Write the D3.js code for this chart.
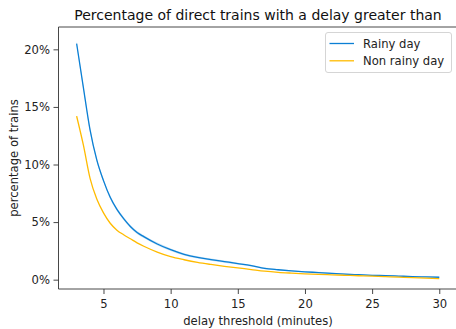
<!DOCTYPE html>
<html>
<head>
<meta charset="utf-8">
<script src="https://cdn.jsdelivr.net/npm/d3@7"></script>
<style>
  html, body { margin: 0; padding: 0; background: #fff; }
  svg { display: block; font-family: "DejaVu Sans", sans-serif; }
</style>
</head>
<body>
<svg id="chart" width="456" height="329"></svg>
<script>
// Delay thresholds in minutes
const thresholds = [3, 3.5, 4, 4.5, 5, 5.5, 6, 6.5, 7, 7.5, 8, 9, 10, 11, 12, 13, 14, 15,
  16, 17, 18, 19, 20, 21, 22, 23, 24, 25, 26, 27, 28, 29, 30];

// Share of trains (%) delayed by more than the threshold
const rainy = [20.5, 16.7, 13.0, 10.4, 8.6, 7.15, 6.1, 5.3, 4.62, 4.1, 3.74, 3.1, 2.6, 2.2,
  1.93, 1.74, 1.57, 1.40, 1.22, 0.98, 0.86, 0.76, 0.68, 0.62, 0.55, 0.48, 0.43, 0.38,
  0.35, 0.31, 0.27, 0.24, 0.21];
const nonRainy = [14.2, 11.7, 8.8, 7.0, 5.8, 4.9, 4.3, 3.9, 3.55, 3.2, 2.9, 2.4, 2.0, 1.73,
  1.50, 1.32, 1.16, 1.02, 0.88, 0.74, 0.64, 0.57, 0.51, 0.46, 0.42, 0.38, 0.34, 0.30,
  0.26, 0.22, 0.18, 0.13, 0.09];

// Half-width of the rainy-day confidence band (percentage points)
const rainyCI = [0.20, 0.18, 0.17, 0.16, 0.15, 0.15, 0.14, 0.14, 0.13, 0.13, 0.12, 0.12,
  0.11, 0.10, 0.10, 0.09, 0.09, 0.08, 0.08, 0.07, 0.07, 0.06, 0.06, 0.06, 0.05, 0.05,
  0.05, 0.05, 0.04, 0.04, 0.04, 0.04, 0.04];

const xTicks = [5, 10, 15, 20, 25, 30];
const yTicks = [0, 5, 10, 15, 20];
const seriesNames = ["Rainy day", "Non rainy day"];
const colors = ["#0b7fd4", "#ffbb00"];

const svg = d3.select("#chart");
const plot = { left: 58.5, right: 457.4, top: 27, bottom: 289 };
const labelSize = "11.6px";

const x = d3.scaleLinear().domain([1.65, 31.35]).range([plot.left, plot.right]);
const y = d3.scaleLinear().domain([-0.81, 21.94]).range([plot.bottom, plot.top]);

// Confidence band for rainy days
const band = d3.area()
  .x((d, i) => x(thresholds[i]))
  .y0((d, i) => y(rainy[i] - rainyCI[i]))
  .y1((d, i) => y(rainy[i] + rainyCI[i]))
  .curve(d3.curveMonotoneX);
svg.append("path")
  .attr("d", band(rainy))
  .attr("fill", colors[0])
  .attr("fill-opacity", 0.22);

const line = d3.line()
  .x((d, i) => x(thresholds[i]))
  .y(d => y(d))
  .curve(d3.curveMonotoneX);

[rainy, nonRainy].forEach((vals, k) => {
  svg.append("path")
    .attr("d", line(vals))
    .attr("fill", "none")
    .attr("stroke", colors[k])
    .attr("stroke-width", 1.3);
});

// Axes
const xAxis = d3.axisBottom(x).tickValues(xTicks).tickSize(5).tickPadding(5.5);
const yAxis = d3.axisLeft(y).tickValues(yTicks).tickSize(5).tickPadding(3.5)
  .tickFormat(d => d + "%");

const gx = svg.append("g").attr("transform", `translate(0,${plot.bottom})`).call(xAxis);
const gy = svg.append("g").attr("transform", `translate(${plot.left},0)`).call(yAxis);
[gx, gy].forEach(g => {
  g.select(".domain").remove();
  g.selectAll(".tick line").attr("stroke", "#333").attr("stroke-width", 0.9);
  g.selectAll(".tick text").attr("fill", "#222").style("font-size", labelSize)
    .style("font-family", "DejaVu Sans, sans-serif");
});

// Spines: left, bottom, top
svg.append("path")
  .attr("d", `M${plot.right + 5},${plot.top}H${plot.left}V${plot.bottom}H${plot.right + 5}`)
  .attr("fill", "none")
  .attr("stroke", "#333")
  .attr("stroke-width", 0.9);

// Title and axis labels
svg.append("text")
  .attr("x", 258).attr("y", 19.5)
  .attr("text-anchor", "middle")
  .style("font-size", "14px")
  .attr("fill", "#111")
  .text("Percentage of direct trains with a delay greater than");

svg.append("text")
  .attr("x", 258).attr("y", 324.5)
  .attr("text-anchor", "middle")
  .style("font-size", labelSize)
  .attr("fill", "#222")
  .text("delay threshold (minutes)");

svg.append("text")
  .attr("transform", "translate(18,158) rotate(-90)")
  .attr("text-anchor", "middle")
  .style("font-size", labelSize)
  .attr("fill", "#222")
  .text("percentage of trains");

// Legend
const legend = svg.append("g").attr("transform", "translate(325,32)");
legend.append("rect")
  .attr("x", 0.5).attr("y", 0.5)
  .attr("width", 126).attr("height", 40)
  .attr("rx", 2.5)
  .attr("fill", "#fff").attr("fill-opacity", 0.8)
  .attr("stroke", "#d5d5d5").attr("stroke-width", 1);
seriesNames.forEach((name, k) => {
  const cy = 11.5 + k * 17.3;
  legend.append("line")
    .attr("x1", 4.5).attr("x2", 29)
    .attr("y1", cy).attr("y2", cy)
    .attr("stroke", colors[k]).attr("stroke-width", 1.3);
  legend.append("text")
    .attr("x", 38).attr("y", cy + 4.2)
    .style("font-size", labelSize)
    .attr("fill", "#222")
    .text(name);
});
</script>
</body>
</html>
